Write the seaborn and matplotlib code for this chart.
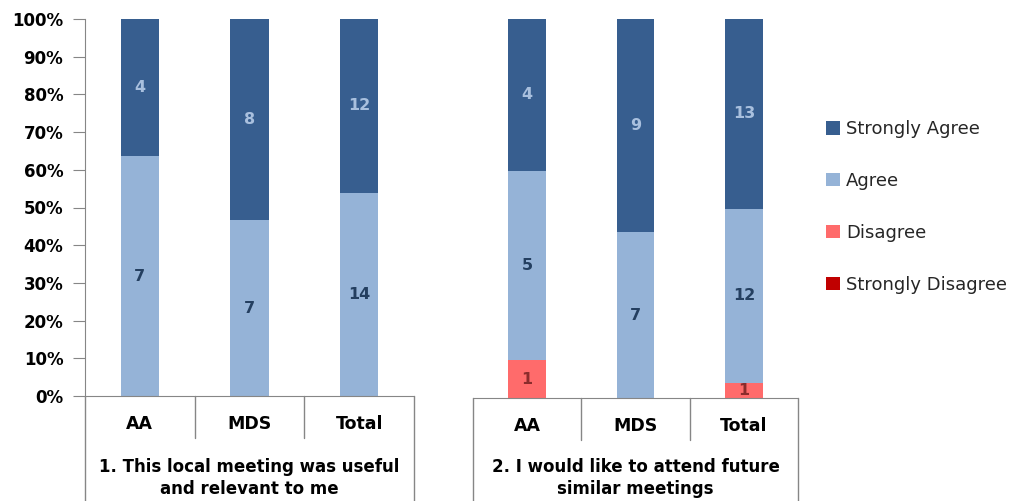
import numpy as np
import pandas as pd
import seaborn as sns
import matplotlib.pyplot as plt
from matplotlib.patches import Patch

# counts
groups = ['AA', 'MDS', 'Total']
levels = ['Strongly Agree', 'Agree', 'Disagree', 'Strongly Disagree']
questions = ['1. This local meeting was useful\nand relevant to me',
             '2. I would like to attend future\nsimilar meetings']

q1_strongly_agree = [4, 8, 12]
q1_agree = [7, 7, 14]
q1_disagree = [0, 0, 0]
q1_strongly_disagree = [0, 0, 0]

q2_strongly_agree = [4, 9, 13]
q2_agree = [5, 7, 12]
q2_disagree = [1, 0, 1]
q2_strongly_disagree = [0, 0, 0]

colors = {'Strongly Agree': '#375E8F', 'Agree': '#95B3D7',
          'Disagree': '#FF6B6B', 'Strongly Disagree': '#C00000'}
label_colors = {'Strongly Agree': '#A9C0DE', 'Agree': '#243F60',
                'Disagree': '#8B2C2C', 'Strongly Disagree': '#FFFFFF'}

sns.set_style('white')
plt.rcParams['font.family'] = ['DejaVu Sans']

fig = plt.figure(figsize=(10.12, 5.01), dpi=100)
W, H = 1012, 501
# axes boxes in pixels: left, right, top, bottom
boxes = [(85, 414, 19, 396), (473, 798, 19, 398)]
grey = '#868686'

data = [
    {'Strongly Agree': q1_strongly_agree, 'Agree': q1_agree,
     'Disagree': q1_disagree, 'Strongly Disagree': q1_strongly_disagree},
    {'Strongly Agree': q2_strongly_agree, 'Agree': q2_agree,
     'Disagree': q2_disagree, 'Strongly Disagree': q2_strongly_disagree},
]

for i, (counts, (l, r, t, b)) in enumerate(zip(data, boxes)):
    ax = fig.add_axes([l / W, 1 - b / H, (r - l) / W, (b - t) / H])
    df = pd.DataFrame(counts, index=groups)
    pct = df.div(df.sum(axis=1), axis=0) * 100
    # stack order bottom -> top
    order = ['Strongly Disagree', 'Disagree', 'Agree', 'Strongly Agree']
    cum = pct[order].cumsum(axis=1)
    # draw tallest first so shorter stacks sit on top
    for lev in order[::-1]:
        sns.barplot(x=groups, y=cum[lev].values, color=colors[lev],
                    width=0.35, saturation=1, ax=ax, edgecolor='none')
    # value labels
    for lev in order:
        for j, g in enumerate(groups):
            n = df.loc[g, lev]
            if n == 0:
                continue
            mid = cum.loc[g, lev] - pct.loc[g, lev] / 2
            ax.text(j, mid, str(n), ha='center', va='center', fontsize=11.5,
                    fontweight='bold', color=label_colors[lev])

    ax.set_xlim(-0.5, 2.5)
    ax.set_ylim(0, 100)
    ax.set_xlabel('')
    ax.set_ylabel('')
    for s in ['top', 'right']:
        ax.spines[s].set_visible(False)
    ax.spines['bottom'].set_color(grey)
    ax.spines['left'].set_color(grey)
    ax.spines['left'].set_visible(i == 0)
    ax.set_xticks(range(3))
    ax.set_xticklabels(groups, fontsize=12.5, fontweight='bold', color='black')
    ax.tick_params(axis='x', length=0, pad=14)

    hpx = b - t
    tr = ax.get_xaxis_transform()
    # separators between categories
    for xs in [0.5, 1.5]:
        ax.plot([xs, xs], [0, -42 / hpx], color=grey, lw=1,
                transform=tr, clip_on=False)
    # outer edges down to the bottom
    for xs in [-0.5, 2.5]:
        ax.plot([xs, xs], [0, -(H - b) / hpx], color=grey, lw=1,
                transform=tr, clip_on=False)
    ax.text(1, -(458 - b) / hpx, questions[i], transform=tr, ha='center',
            va='top', fontsize=12, fontweight='bold', linespacing=1.32,
            color='black', clip_on=False)

    if i == 0:
        ax.set_yticks(np.arange(0, 101, 10))
        ax.set_yticklabels([f'{v}%' for v in range(0, 101, 10)],
                           fontsize=12, fontweight='bold', color='black')
        ax.tick_params(axis='y', direction='out', length=8.6, color=grey,
                       pad=7, left=True)
    else:
        ax.set_yticks([])

handles = [Patch(facecolor=colors[lev], edgecolor='none') for lev in levels]
fig.legend(handles, levels, loc='upper left', bbox_to_anchor=(826 / W, 1 - 120 / H),
           frameon=False, fontsize=13, labelspacing=1.88, handlelength=0.78,
           handleheight=0.78, handletextpad=0.33, borderpad=0, borderaxespad=0,
           labelcolor='#262626')

fig.savefig('out.png', dpi=100)
